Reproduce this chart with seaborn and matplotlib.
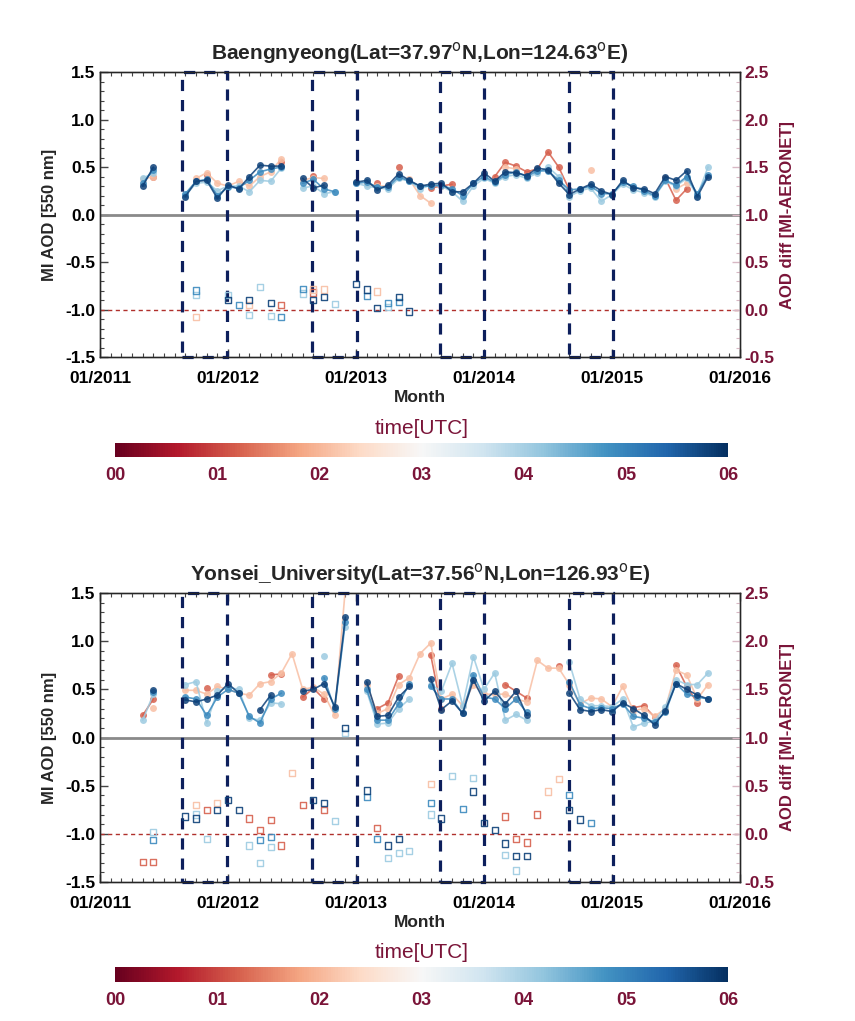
import numpy as np
import pandas as pd
import matplotlib
matplotlib.use('Agg')
import matplotlib.pyplot as plt
from matplotlib.patches import Rectangle
from matplotlib.ticker import MultipleLocator
from matplotlib.cm import ScalarMappable
from matplotlib.colors import Normalize
import seaborn as sns

sns.set_theme(context='paper', style='white')
FAM = ['Liberation Sans Narrow', 'Liberation Sans', 'DejaVu Sans']
plt.rcParams['font.family'] = FAM

# x axis: months since 01/2011
YEAR_TICKS = [0, 12, 24, 36, 48, 60]
YEAR_LABELS = ['01/2011', '01/2012', '01/2013', '01/2014', '01/2015', '01/2016']
CB_TICKS = [0, 1, 2, 3, 4, 5, 6]
CB_LABELS = ['00', '01', '02', '03', '04', '05', '06']
# Sep-Dec boxes
BOX_START = [7.7, 19.9, 31.9, 44.0]
BOX_END = [11.9, 24.1, 36.0, 48.1]

# ---- Baengnyeong: monthly MI AOD per hour (UTC) ----
BAE_06 = {4: 0.30, 5: 0.50, 8: 0.19, 9: 0.35, 10: 0.36, 11: 0.17, 12: 0.31, 13: 0.27, 14: 0.40, 15: 0.52,
          16: 0.51, 17: 0.51, 19: 0.38, 20: 0.28, 21: 0.31, 24: 0.34, 25: 0.36, 26: 0.26, 27: 0.31, 28: 0.43,
          29: 0.36, 30: 0.30, 31: 0.32, 32: 0.33, 33: 0.24, 34: 0.24, 35: 0.33, 36: 0.44, 37: 0.35, 38: 0.45,
          39: 0.44, 40: 0.41, 41: 0.49, 42: 0.47, 43: 0.33, 44: 0.21, 45: 0.27, 46: 0.32, 47: 0.25, 48: 0.21,
          49: 0.36, 50: 0.28, 51: 0.27, 52: 0.22, 53: 0.40, 54: 0.36, 55: 0.46, 56: 0.19, 57: 0.40}
BAE_05 = {4: 0.33, 5: 0.47, 8: 0.22, 9: 0.35, 10: 0.37, 11: 0.20, 12: 0.29, 13: 0.28, 14: 0.36, 15: 0.45,
          16: 0.48, 17: 0.50, 19: 0.33, 20: 0.37, 21: 0.27, 22: 0.24, 24: 0.33, 25: 0.34, 26: 0.29, 27: 0.29,
          28: 0.40, 29: 0.35, 30: 0.30, 31: 0.30, 32: 0.31, 33: 0.27, 34: 0.20, 35: 0.33, 36: 0.40, 37: 0.34,
          38: 0.42, 39: 0.45, 40: 0.40, 41: 0.46, 42: 0.46, 43: 0.36, 44: 0.26, 45: 0.27, 46: 0.30, 47: 0.22,
          48: 0.22, 49: 0.34, 50: 0.30, 51: 0.25, 52: 0.20, 53: 0.36, 54: 0.31, 55: 0.40, 56: 0.22, 57: 0.42}
BAE_04 = {4: 0.38, 5: 0.44, 8: 0.20, 9: 0.33, 10: 0.34, 11: 0.25, 12: 0.30, 13: 0.30, 14: 0.24, 15: 0.36,
          16: 0.35, 17: 0.49, 19: 0.28, 20: 0.30, 21: 0.22, 22: 0.24, 24: 0.33, 25: 0.30, 26: 0.28, 27: 0.27,
          28: 0.38, 29: 0.35, 30: 0.27, 31: 0.31, 32: 0.30, 33: 0.24, 34: 0.14, 35: 0.30, 36: 0.38, 37: 0.33,
          38: 0.40, 39: 0.42, 40: 0.38, 41: 0.44, 42: 0.50, 43: 0.40, 44: 0.19, 45: 0.25, 46: 0.28, 47: 0.14,
          48: 0.21, 49: 0.32, 50: 0.26, 51: 0.23, 52: 0.19, 53: 0.35, 54: 0.30, 55: 0.38, 56: 0.20, 57: 0.50}
BAE_02 = {4: 0.37, 5: 0.40, 9: 0.38, 10: 0.44, 11: 0.33, 12: 0.30, 13: 0.35, 14: 0.30, 15: 0.40, 16: 0.45,
          17: 0.59, 19: 0.36, 20: 0.39, 21: 0.38, 25: 0.32, 26: 0.30, 27: 0.30, 29: 0.37, 30: 0.20, 31: 0.12,
          38: 0.50, 39: 0.48, 46: 0.47, 54: 0.27, 55: 0.33}
BAE_01 = {5: 0.40, 10: 0.42, 17: 0.55, 20: 0.41, 26: 0.33, 28: 0.50, 31: 0.28, 32: 0.30, 33: 0.32, 37: 0.40,
          38: 0.55, 39: 0.51, 40: 0.45, 41: 0.48, 42: 0.66, 43: 0.50, 44: 0.26, 53: 0.38, 54: 0.15, 55: 0.27}

# ---- Baengnyeong: AOD diff (MI-AERONET) ----
BAE_D06 = {12: 0.10, 14: 0.10, 16: 0.07, 20: 0.10, 21: 0.13, 24: 0.27, 25: 0.21, 26: 0.02, 28: 0.13, 29: -0.02}
BAE_D05 = {9: 0.20, 13: 0.05, 17: -0.08, 19: 0.22, 25: 0.14, 27: 0.07, 28: 0.08}
BAE_D04 = {9: 0.15, 12: 0.15, 14: -0.06, 15: 0.24, 16: -0.07, 19: 0.17, 22: 0.06, 27: 0.03}
BAE_D02 = {9: -0.08, 14: 0.05, 20: 0.21, 21: 0.21, 26: 0.19}
BAE_D01 = {17: 0.05, 20: 0.18}

# ---- Yonsei_University: monthly MI AOD per hour (UTC) ----
YON_06 = {5: 0.49, 8: 0.39, 9: 0.37, 10: 0.40, 11: 0.44, 12: 0.56, 13: 0.46, 15: 0.29, 16: 0.44, 19: 0.48,
          20: 0.50, 21: 0.56, 22: 0.32, 23: 1.25, 25: 0.58, 26: 0.22, 27: 0.23, 28: 0.42, 29: 0.53, 31: 0.61,
          32: 0.29, 33: 0.38, 34: 0.25, 35: 0.60, 36: 0.38, 37: 0.48, 38: 0.35, 39: 0.48, 40: 0.23, 44: 0.46,
          45: 0.29, 46: 0.27, 47: 0.29, 48: 0.27, 49: 0.36, 50: 0.30, 51: 0.23, 52: 0.13, 53: 0.28, 54: 0.56,
          55: 0.50, 56: 0.44, 57: 0.40}
YON_05 = {5: 0.47, 8: 0.42, 9: 0.40, 10: 0.23, 11: 0.42, 12: 0.50, 13: 0.46, 14: 0.22, 15: 0.15, 16: 0.40,
          17: 0.46, 21: 0.62, 22: 0.30, 23: 1.20, 25: 0.50, 26: 0.18, 27: 0.18, 28: 0.35, 29: 0.56, 31: 0.53,
          32: 0.40, 33: 0.40, 34: 0.25, 35: 0.65, 36: 0.42, 37: 0.40, 38: 0.30, 39: 0.40, 40: 0.26, 44: 0.58,
          45: 0.34, 46: 0.30, 47: 0.31, 48: 0.30, 49: 0.35, 50: 0.22, 51: 0.20, 52: 0.16, 53: 0.26, 54: 0.56,
          55: 0.45, 56: 0.42, 57: 0.40}
YON_04 = {4: 0.18, 5: 0.45, 8: 0.55, 9: 0.58, 10: 0.15, 11: 0.48, 12: 0.52, 13: 0.50, 14: 0.20, 15: 0.18,
          16: 0.36, 17: 0.35, 21: 0.85, 23: 1.15, 25: 0.48, 26: 0.14, 27: 0.15, 28: 0.30, 29: 0.40, 31: 0.55,
          32: 0.48, 33: 0.77, 34: 0.33, 35: 0.84, 36: 0.50, 37: 0.67, 38: 0.18, 39: 0.24, 40: 0.18, 44: 0.78,
          45: 0.40, 46: 0.33, 47: 0.33, 48: 0.32, 49: 0.40, 50: 0.11, 51: 0.15, 52: 0.17, 53: 0.32, 54: 0.60,
          55: 0.55, 56: 0.55, 57: 0.67}
YON_02 = {5: 0.31, 8: 0.49, 9: 0.49, 10: 0.45, 11: 0.53, 12: 0.50, 13: 0.46, 14: 0.44, 15: 0.56, 16: 0.58,
          17: 0.67, 18: 0.87, 19: 0.50, 20: 0.52, 21: 0.45, 22: 0.23, 23: 1.55, 25: 0.55, 26: 0.25, 27: 0.30,
          28: 0.55, 29: 0.62, 30: 0.87, 31: 0.98, 32: 0.40, 33: 0.45, 34: 0.33, 35: 0.55, 36: 0.45, 37: 0.45,
          38: 0.45, 39: 0.40, 40: 0.37, 41: 0.80, 42: 0.72, 43: 0.72, 44: 0.55, 45: 0.35, 46: 0.41, 47: 0.40,
          48: 0.32, 49: 0.53, 50: 0.28, 51: 0.30, 52: 0.22, 53: 0.30, 54: 0.70, 55: 0.65, 56: 0.40, 57: 0.55}
YON_01 = {4: 0.23, 5: 0.40, 10: 0.51, 16: 0.65, 17: 0.66, 19: 0.42, 20: 0.51, 21: 0.40, 26: 0.30, 27: 0.36,
          28: 0.64, 31: 0.86, 32: 0.30, 38: 0.55, 39: 0.48, 40: 0.41, 43: 0.74, 50: 0.31, 51: 0.33, 52: 0.21,
          54: 0.75, 55: 0.53, 56: 0.36}

# ---- Yonsei_University: AOD diff (MI-AERONET) ----
YON_D06 = {8: 0.18, 9: 0.16, 11: 0.25, 12: 0.35, 13: 0.25, 20: 0.35, 21: 0.32, 23: 1.10, 25: 0.45, 27: -0.12,
           28: -0.05, 32: 0.16, 35: 0.44, 36: 0.11, 37: 0.04, 38: -0.10, 39: -0.23, 40: -0.23, 44: 0.25, 45: 0.15}
YON_D05 = {5: -0.06, 15: -0.06, 16: -0.03, 25: 0.38, 26: -0.05, 31: 0.32, 34: 0.26, 44: 0.40, 46: 0.11}
YON_D04 = {5: 0.02, 9: 0.20, 10: -0.05, 14: -0.12, 15: -0.30, 16: -0.14, 22: 0.13, 23: 1.05, 27: -0.25,
           28: -0.20, 29: -0.18, 31: 0.20, 33: 0.60, 35: 0.58, 38: -0.22, 39: -0.38}
YON_D02 = {9: 0.30, 11: 0.32, 18: 0.63, 31: 0.52, 42: 0.44, 43: 0.57}
YON_D01 = {4: -0.29, 5: -0.29, 10: 0.25, 14: 0.16, 15: 0.04, 16: 0.14, 17: -0.12, 19: 0.30, 21: 0.25,
           26: 0.06, 38: 0.18, 39: -0.05, 40: -0.09, 41: 0.20}

MAROON = '#7a1438'
NAVY = '#0d1f5c'
CMAP = plt.get_cmap('RdBu')
# colour position of each series on the 00-06 UTC bar
HOUR_POS = {'01': 1.2, '02': 2.1, '04': 4.1, '05': 4.9, '06': 5.8}
PALETTE = {h: CMAP(v / 6.0) for h, v in HOUR_POS.items()}


def toFrame(series, col):
	rows = []
	for hour, d in series.items():
		months = sorted(d)
		seg = 0
		for i, m in enumerate(months):
			if i > 0 and m - months[i-1] > 1:
				seg += 1
			rows.append([hour, m, d[m], "%s_%d" % (hour, seg)])
	return pd.DataFrame(rows, columns=("hour", "month", col, "seg"))


def plotSite(ax, title, aod, diff):
	dfA = toFrame(aod, "aod")
	dfD = toFrame(diff, "diff")
	ax.axhline(0, color='#8a8a8a', lw=2, zorder=1)
	ax.axhline(-1, color='#b0302c', lw=1, ls=(0, (3, 2.5)), zorder=1)
	sns.lineplot(data=dfA, x="month", y="aod", hue="hour", units="seg", estimator=None,
		palette=PALETTE, hue_order=['01', '02', '04', '05', '06'], legend=False, ax=ax,
		lw=1.2, alpha=0.85, marker='o', markersize=5, markeredgewidth=0, zorder=3)
	for x0, x1 in zip(BOX_START, BOX_END):
		ax.add_patch(Rectangle((x0, -1.5), x1 - x0, 3.0, fill=False, ec=NAVY, lw=2.3,
			ls=(0, (3.5, 2.8)), clip_on=False, zorder=6))
	ax.set(xlim=(0, 60), ylim=(-1.5, 1.5), xlabel=None, ylabel=None)
	ax.set_xticks(YEAR_TICKS)
	ax.set_xticklabels(YEAR_LABELS)
	ax.xaxis.set_minor_locator(MultipleLocator(1))
	ax.set_yticks([-1.5, -1.0, -0.5, 0.0, 0.5, 1.0, 1.5])
	ax.set_yticklabels(['-1.5', '-1.0', '-0.5', '0.0', '0.5', '1.0', '1.5'])
	ax.yaxis.set_minor_locator(MultipleLocator(0.1))
	ax.tick_params(which='both', direction='in', top=True, bottom=True, left=True, right=False,
		colors='#444444', labelcolor='black', labelsize=12.5)
	ax.tick_params(which='major', length=6, width=1)
	ax.tick_params(which='minor', length=3, width=0.8)
	ax.tick_params(axis='x', pad=10)
	for lab in ax.get_xticklabels() + ax.get_yticklabels():
		lab.set_fontweight('bold')
	for sp in ax.spines.values():
		sp.set_color('#555555')
		sp.set_linewidth(1)
	ax.set_title(title, fontsize=15, fontweight='bold', pad=9)
	ax.set_ylabel('MI AOD [550 nm]', fontsize=12, fontweight='bold', labelpad=6)
	ax.set_xlabel('Month', fontsize=12.5, fontweight='bold', labelpad=3)

	axr = ax.twinx()
	sns.scatterplot(data=dfD, x="month", y="diff", hue="hour", palette=PALETTE, marker='s',
		s=20, linewidth=1.0, alpha=0.9, legend=False, ax=axr, zorder=4)
	for coll in axr.collections:
		fc = coll.get_facecolors()
		coll.set_edgecolors(fc)
		coll.set_facecolors('none')
	axr.set(ylim=(-0.5, 2.5), ylabel=None, xlim=(0, 60))
	axr.set_yticks([-0.5, 0.0, 0.5, 1.0, 1.5, 2.0, 2.5])
	axr.set_yticklabels(['-0.5', '0.0', '0.5', '1.0', '1.5', '2.0', '2.5'])
	axr.yaxis.set_minor_locator(MultipleLocator(0.1))
	axr.tick_params(which='both', direction='in', right=True, colors='#d8b8c4',
		labelcolor=MAROON, labelsize=12.5)
	axr.tick_params(which='major', length=6)
	axr.tick_params(which='minor', length=3)
	for lab in axr.get_yticklabels():
		lab.set_fontweight('bold')
	axr.set_ylabel('AOD diff [MI-AERONET]', color=MAROON, fontsize=12, fontweight='bold', labelpad=4)
	axr.grid(False)
	ax.grid(False)


def colorBar(fig, rect, label_y):
	cax = fig.add_axes(rect)
	sm = ScalarMappable(norm=Normalize(0, 6), cmap=CMAP)
	cb = fig.colorbar(sm, cax=cax, orientation='horizontal')
	cb.outline.set_visible(False)
	cb.set_ticks(CB_TICKS)
	cb.set_ticklabels(CB_LABELS)
	cax.tick_params(length=0, labelsize=13, labelcolor=MAROON, pad=7)
	for lab in cax.get_xticklabels():
		lab.set_fontweight('bold')
	fig.text(0.4935, label_y, 'time[UTC]', color=MAROON, fontsize=15, ha='center', va='center')


fig = plt.figure(figsize=(8.55, 10.21), dpi=100)
ax1 = fig.add_axes([0.117, 0.6503, 0.7485, 0.2791])
ax2 = fig.add_axes([0.117, 0.1361, 0.7485, 0.2831])

plotSite(ax1, 'Baengnyeong(Lat=37.97$^{\\rm o}$N,Lon=124.63$^{\\rm o}$E)',
	{'01': BAE_01, '02': BAE_02, '04': BAE_04, '05': BAE_05, '06': BAE_06},
	{'01': BAE_D01, '02': BAE_D02, '04': BAE_D04, '05': BAE_D05, '06': BAE_D06})
plotSite(ax2, 'Yonsei_University(Lat=37.56$^{\\rm o}$N,Lon=126.93$^{\\rm o}$E)',
	{'01': YON_01, '02': YON_02, '04': YON_04, '05': YON_05, '06': YON_06},
	{'01': YON_D01, '02': YON_D02, '04': YON_D04, '05': YON_D05, '06': YON_D06})

colorBar(fig, [0.1345, 0.5524, 0.717, 0.0137], 1 - 428 / 1021)
colorBar(fig, [0.1345, 0.0382, 0.717, 0.0147], 1 - 952 / 1021)

fig.savefig("out.png", dpi=100, facecolor='white')
